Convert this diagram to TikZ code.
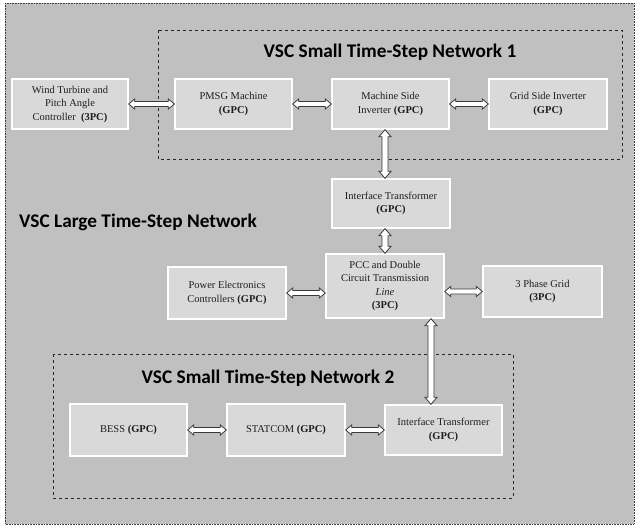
\documentclass[tikz,border=0pt]{standalone}
\usepackage{fontspec}
\setmainfont{Liberation Serif}
\newfontfamily\titlefont{Carlito}
\usetikzlibrary{calc}

\definecolor{panelgray}{HTML}{C0C0C0}
\definecolor{boxgray}{HTML}{D9D9D9}
\definecolor{edgegray}{HTML}{3A3A3A}
\definecolor{textgray}{HTML}{1E1E1E}

\tikzset{
  blk/.style={draw=white, line width=1.4pt, fill=boxgray, minimum width=117pt,
    minimum height=50pt, inner sep=0pt, align=center, text=textgray,
    font=\fontsize{10.5pt}{13.5pt}\selectfont},
  netbox/.style={draw=black!85, dashed, line width=0.8pt},
  heading/.style={font=\titlefont\bfseries\fontsize{19.3pt}{21pt}\selectfont, text=black, inner sep=0pt},
  blockarrow/.style={draw=edgegray, fill=white, line width=0.8pt, line join=miter},
}

% horizontal double-headed block arrow between two points at equal height
\newcommand\harrow[2]{%
  \path[blockarrow] let \p1=(#1), \p2=(#2) in
    (\x1,\y1) -- (\x1+6pt,\y1+5pt) -- (\x1+6pt,\y1+2.5pt) -- (\x2-6pt,\y1+2.5pt)
    -- (\x2-6pt,\y1+5pt) -- (\x2,\y1) -- (\x2-6pt,\y1-5pt) -- (\x2-6pt,\y1-2.5pt)
    -- (\x1+6pt,\y1-2.5pt) -- (\x1+6pt,\y1-5pt) -- cycle;}
% vertical double-headed block arrow, first point above the second
\newcommand\varrow[2]{%
  \path[blockarrow] let \p1=(#1), \p2=(#2) in
    (\x1,\y1) -- (\x1+6pt,\y1-7pt) -- (\x1+3pt,\y1-7pt) -- (\x1+3pt,\y2+7pt)
    -- (\x1+6pt,\y2+7pt) -- (\x1,\y2) -- (\x1-6pt,\y2+7pt) -- (\x1-3pt,\y2+7pt)
    -- (\x1-3pt,\y1-7pt) -- (\x1-6pt,\y1-7pt) -- cycle;}

\begin{document}
\begin{tikzpicture}[x=1pt, y=-1pt]
  \useasboundingbox (0,0) rectangle (637,527);
  \fill[white] (0,0) rectangle (637,527);
  \fill[panelgray] (5,3) rectangle (634,524);
  \draw[edgegray, line width=0.6pt, densely dotted] (5,3) rectangle (634,524);

  % small time-step regions
  \draw[netbox] (158,30) rectangle (622,159);
  \draw[netbox] (53,354) rectangle (513,498);

  \node[heading] (t1) at (390,52) {VSC Small Time-Step Network 1};
  \node[heading] (t0) at (138,222) {VSC Large Time-Step Network};
  \node[heading] (t2) at (268,378) {VSC Small Time-Step Network 2};

  % blocks
  \node[blk, minimum width=116pt] (wind) at (70,104) {Wind Turbine and\\Pitch Angle\\Controller\ \ \textbf{(3PC)}};
  \node[blk] (pmsg) at (233.5,104) {PMSG Machine\\\textbf{(GPC)}};
  \node[blk] (msi) at (390.5,104) {Machine Side\\Inverter \textbf{(GPC)}};
  \node[blk, minimum width=118pt] (gsi) at (548,104) {Grid Side Inverter\\\textbf{(GPC)}};
  \node[blk, minimum width=118pt, minimum height=49pt] (it1) at (391,203.5) {Interface Transformer\\\textbf{(GPC)}};
  \node[blk, minimum width=118pt, minimum height=64pt] (pcc) at (385,286) {PCC and Double\\Circuit Transmission\\\textit{Line}\\\textbf{(3PC)}};
  \node[blk, minimum width=118pt, minimum height=52pt] (pec) at (227,293) {Power Electronics\\Controllers \textbf{(GPC)}};
  \node[blk, minimum width=119pt, minimum height=51pt] (grid) at (542.5,291.5) {3 Phase Grid\\\textbf{(3PC)}};
  \node[blk, minimum height=52pt] (bess) at (128.5,430) {BESS \textbf{(GPC)}};
  \node[blk, minimum width=118pt, minimum height=52pt] (statcom) at (286,430) {STATCOM \textbf{(GPC)}};
  \node[blk, minimum height=50pt] (it2) at (443.5,430) {Interface Transformer\\\textbf{(GPC)}};

  % column of the lower vertical link
  \coordinate (drop) at ($(it2.north)+(-12.5,0)$);

  % connectors
  \harrow{wind.east}{pmsg.west}
  \harrow{pmsg.east}{msi.west}
  \harrow{msi.east}{gsi.west}
  \harrow{pec.east}{pec.east -| pcc.west}
  \harrow{grid.west -| pcc.east}{grid.west}
  \harrow{bess.east}{statcom.west}
  \harrow{statcom.east}{it2.west}
  \varrow{pcc.north |- msi.south}{pcc.north |- it1.north}
  \varrow{pcc.north |- it1.south}{pcc.north}
  \varrow{drop |- pcc.south}{drop}
\end{tikzpicture}
\end{document}
